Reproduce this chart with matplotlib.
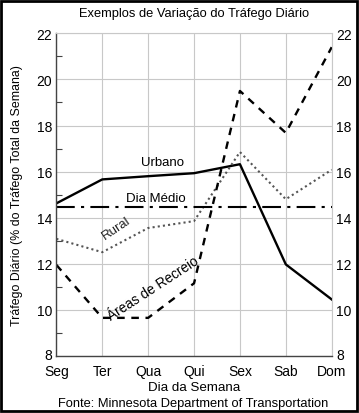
import matplotlib.pyplot as plt
import matplotlib.transforms as mtransforms
from matplotlib.patches import Rectangle
import numpy as np

plt.rcParams['font.family'] = ['Liberation Sans', 'DejaVu Sans']

dias = ["Seg", "Ter", "Qua", "Qui", "Sex", "Sab", "Dom"]
urbano = [14.62, 15.66, 15.8, 15.93, 16.32, 11.97, 10.45]
rural = [13.08, 12.5, 13.55, 13.85, 16.85, 14.8, 16.08]
recreio = [11.95, 9.65, 9.65, 11.15, 19.5, 17.68, 21.4]
dia_medio = 14.45

x = np.arange(len(dias))

fig = plt.figure(figsize=(3.59, 4.14), dpi=100)
ax = fig.add_axes([0.157, 0.138, 0.767, 0.779])

ax.plot(x, urbano, color="black", lw=1.7)
ax.plot(x, rural, color="#555555", lw=1.5, ls=(0, (1, 1.5)))
ax.plot(x, recreio, color="black", lw=1.7, ls=(0, (3.2, 2.8)))
ax.axhline(dia_medio, color="black", lw=1.5, ls=(0, (9, 3, 1.5, 3)))

ax.set_xlim(0, 6)
ax.set_ylim(8, 22)
ax.set_xticks(x)
ax.set_xticklabels(dias, fontsize=10)
ax.set_yticks(np.arange(8, 23, 2))
ax.set_yticks(np.arange(9, 23, 2), minor=True)
ax.tick_params(axis="y", which="major", length=0, labelsize=10, pad=3,
               labelright=True)
ax.tick_params(axis="y", which="minor", direction="in", length=4,
               color="#444444", width=0.8)
ax.tick_params(axis="x", length=0, pad=6)
ax.grid(True, which="major", color="#c8c8c8", lw=0.8)

# o "8" fica um pouco acima da linha do eixo
sobe = mtransforms.ScaledTranslation(0, 2 / 100, fig.dpi_scale_trans)
t0 = ax.yaxis.get_major_ticks()[0]
t0.label1.set_transform(t0.label1.get_transform() + sobe)
t0.label2.set_transform(t0.label2.get_transform() + sobe)

for s in ["top", "right"]:
    ax.spines[s].set_color("#c8c8c8")
    ax.spines[s].set_linewidth(0.8)
for s in ["left", "bottom"]:
    ax.spines[s].set_color("#444444")
    ax.spines[s].set_linewidth(1.0)

ax.set_ylabel("Tráfego Diário (% do Tráfego Total da Semana)", fontsize=8.9)
ax.yaxis.set_label_coords(-0.12, 0.5)
ax.set_xlabel("Dia da Semana", fontsize=9.6, labelpad=2)

ax.text(2.32, 16.43, "Urbano", fontsize=9.5, ha="center", va="center")
ax.text(2.17, 14.87, "Dia Médio", fontsize=9.5, ha="center", va="center")
ax.text(1.3, 13.55, "Rural", fontsize=9.5, ha="center", va="center",
        rotation=34, color="#222222")
ax.text(2.1, 10.95, "Áreas de Recreio", fontsize=9.8, ha="center",
        va="center", rotation=33)

fig.text(0.54, 0.966, "Exemplos de Variação do Tráfego Diário", fontsize=9.3,
         ha="center", va="center")
fig.text(0.537, 0.024, "Fonte: Minnesota Department of Transportation",
         fontsize=9.3, ha="center", va="center")

fig.patches.append(Rectangle((0.004, 0.004), 0.99, 0.99, transform=fig.transFigure,
                             fill=False, lw=2, edgecolor="black"))

fig.savefig("out.png", dpi=100)
